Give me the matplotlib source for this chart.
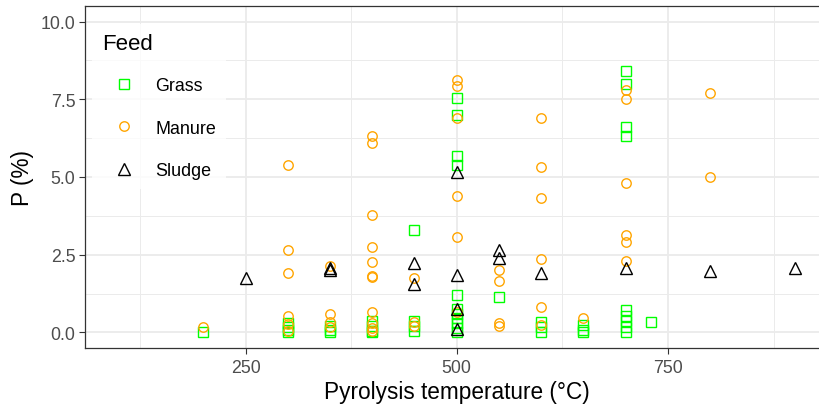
import matplotlib
matplotlib.use("Agg")
import numpy as np
from matplotlib import pyplot as plt
from matplotlib.ticker import MultipleLocator

plt.rcParams['font.family'] = ['Liberation Sans', 'DejaVu Sans']

# phosphorus content of biochar by feedstock and pyrolysis temperature
grass_temp = [200,
              300, 300, 300, 300,
              350, 350, 350,
              400, 400, 400, 400,
              450, 450, 450, 450,
              500, 500, 500, 500, 500, 500, 500, 500, 500, 500, 500,
              550,
              600, 600, 600,
              650, 650, 650,
              700, 700, 700, 700, 700, 700, 700, 700, 700,
              730]
grass_p = [0.0,
           0.30, 0.18, 0.08, 0.0,
           0.22, 0.08, 0.0,
           0.38, 0.22, 0.06, 0.0,
           3.30, 0.38, 0.22, 0.06,
           7.54, 7.00, 5.67, 5.39, 1.21, 0.75, 0.60, 0.45, 0.30, 0.15, 0.0,
           1.15,
           0.33, 0.17, 0.0,
           0.25, 0.09, 0.0,
           8.41, 7.99, 6.60, 6.31, 0.73, 0.54, 0.37, 0.17, 0.03,
           0.35]

manure_temp = [200,
               300, 300, 300, 300, 300, 300,
               350, 350, 350, 350,
               400, 400, 400, 400, 400, 400, 400, 400, 400, 400, 400,
               450, 450, 450,
               500, 500, 500, 500, 500, 500,
               550, 550, 550, 550,
               600, 600, 600, 600, 600, 600,
               650,
               700, 700, 700, 700, 700, 700,
               800, 800]
manure_p = [0.19,
            5.40, 2.64, 1.90, 0.54, 0.27, 0.06,
            2.15, 0.58, 0.33, 0.17,
            6.33, 6.09, 3.79, 2.74, 2.26, 1.83, 1.77, 0.65, 0.30, 0.15, 0.05,
            1.74, 0.33, 0.22,
            8.13, 7.92, 6.90, 4.40, 3.06, 0.65,
            2.02, 1.65, 0.30, 0.22,
            6.90, 5.31, 4.33, 2.36, 0.82, 0.25,
            0.48,
            7.81, 7.52, 4.81, 3.13, 2.92, 2.31,
            7.70, 4.99]

sludge_temp = [250, 350, 350, 450, 450, 500, 500, 500, 500, 550, 550, 600, 700, 800, 900]
sludge_p = [1.74, 2.06, 2.00, 2.23, 1.55, 5.15, 1.85, 0.75, 0.12, 2.66, 2.38, 1.90, 2.06, 1.99, 2.06]

fig = plt.figure(figsize=(8.19, 4.06), dpi=100)
ax = fig.add_axes([0.1038, 0.1404, 0.9077, 0.8424])

ax.plot(grass_temp, grass_p, 's', ms=7.5, mfc='none', mec='#00FF00', mew=1.0, label='Grass')
ax.plot(manure_temp, manure_p, 'o', ms=6.8, mfc='none', mec='#FFA500', mew=1.0, label='Manure')
ax.plot(sludge_temp, sludge_p, '^', ms=9, mfc='none', mec='black', mew=1.0, label='Sludge')

ax.set_xlim(60, 940)
ax.set_ylim(-0.5, 10.5)
ax.xaxis.set_major_locator(MultipleLocator(250))
ax.xaxis.set_minor_locator(MultipleLocator(125))
ax.yaxis.set_major_locator(MultipleLocator(2.5))
ax.yaxis.set_minor_locator(MultipleLocator(1.25))
ax.yaxis.set_major_formatter(matplotlib.ticker.FormatStrFormatter('%.1f'))

ax.set_axisbelow(True)
ax.grid(which='major', color='#EBEBEB', lw=1.3)
ax.grid(which='minor', color='#EBEBEB', lw=0.7)
ax.tick_params(which='minor', length=0)
ax.tick_params(which='major', length=4.5, width=0.8, color='#333333',
               labelcolor='#4D4D4D', labelsize=12.8)
ax.tick_params(axis='x', pad=3.5)
ax.tick_params(axis='y', pad=2.5)

for s in ['left', 'top', 'bottom']:
    ax.spines[s].set_color('#333333')
    ax.spines[s].set_linewidth(0.9)
ax.spines['right'].set_visible(False)

ax.set_xlabel('Pyrolysis temperature (°C)', fontsize=16.3)
ax.set_ylabel('P (%)', fontsize=16.3)
ax.xaxis.set_label_coords(0.5, -0.093)
ax.yaxis.set_label_coords(-0.068, 0.5)

leg = ax.legend(title='Feed', loc='upper left', bbox_to_anchor=(0.0094, 0.9487),
                borderaxespad=0, borderpad=0.55, fontsize=12.9, title_fontsize=16,
                handlelength=2.45, handletextpad=0.55, labelspacing=1.43,
                alignment='left', frameon=True, fancybox=False)
leg.get_frame().set_facecolor('white')
leg.get_frame().set_edgecolor('none')
# tighten the gap between the title and the first entry
leg._legend_box.sep -= 2.2

fig.savefig('out.png', dpi=100)
